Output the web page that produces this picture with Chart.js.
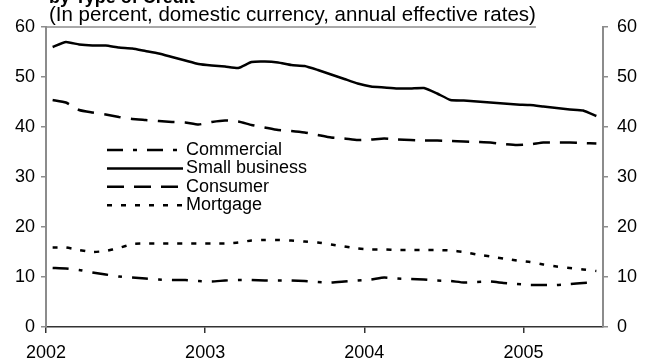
<!DOCTYPE html>
<html>
<head>
<meta charset="utf-8">
<script src="https://cdn.jsdelivr.net/npm/chart.js@4.4.0/dist/chart.umd.min.js"></script>
<style>
    html, body { margin: 0; padding: 0; background: #fff; }
    #wrap { width: 646px; height: 362px; position: relative; }
</style>
</head>
<body>
<div id="wrap"><canvas id="rateChart"></canvas></div>
<script>
// Monthly lending rates, Jan 2002 - Jun 2005
const startYear = 2002;
const commercial = [11.8, 11.7, 11.4, 10.9, 10.5, 10.1, 9.9, 9.7, 9.5, 9.4, 9.4, 9.2, 9.1, 9.3, 9.4, 9.4, 9.3, 9.3, 9.3, 9.2, 9.0, 8.9, 9.1, 9.3, 9.5, 9.9, 9.7, 9.6, 9.5, 9.3, 9.2, 8.9, 9.0, 9.1, 8.8, 8.6, 8.4, 8.4, 8.4, 8.6, 8.8, 8.9];
const smallBusiness = [56.0, 57.0, 56.5, 56.3, 56.3, 55.9, 55.7, 55.2, 54.7, 54.0, 53.3, 52.6, 52.3, 52.1, 51.8, 53.0, 53.1, 52.9, 52.4, 52.2, 51.4, 50.5, 49.6, 48.7, 48.1, 47.9, 47.7, 47.7, 47.8, 46.7, 45.4, 45.3, 45.1, 44.9, 44.7, 44.5, 44.4, 44.1, 43.8, 43.5, 43.3, 42.2];
const consumer = [45.4, 44.9, 43.4, 42.9, 42.5, 42.0, 41.6, 41.4, 41.2, 41.0, 40.9, 40.5, 41.0, 41.3, 41.1, 40.4, 39.9, 39.4, 39.2, 38.9, 38.4, 37.9, 37.7, 37.4, 37.5, 37.7, 37.5, 37.4, 37.3, 37.3, 37.2, 37.1, 37.0, 36.9, 36.6, 36.4, 36.5, 36.9, 36.9, 36.9, 36.8, 36.7];
const mortgage = [15.9, 15.9, 15.4, 15.0, 15.2, 15.8, 16.6, 16.7, 16.7, 16.7, 16.7, 16.7, 16.7, 16.7, 16.9, 17.3, 17.4, 17.4, 17.3, 17.1, 16.9, 16.5, 16.1, 15.7, 15.5, 15.5, 15.4, 15.4, 15.4, 15.4, 15.3, 15.0, 14.5, 14.1, 13.7, 13.3, 13.0, 12.5, 12.1, 11.8, 11.5, 11.2];
const seriesNames = ['Commercial', 'Small business', 'Consumer', 'Mortgage'];
const yTicks = [0, 10, 20, 30, 40, 50, 60];
const yearTicks = [2002, 2003, 2004, 2005];

const titleText = 'by Type of Credit';
const subtitleText = '(In percent, domestic currency, annual effective rates)';

const FONT = "'Liberation Sans', Arial, sans-serif";

// each month sits in the middle of its slot on the year axis
function toPoints(values) {
    return values.map((v, i) => ({ x: startYear + (i + 0.5) / 12, y: v }));
}

function makeSet(label, values, dash) {
    return {
        label: label,
        data: toPoints(values),
        borderColor: '#000',
        borderWidth: 2.5,
        borderDash: dash,
        borderCapStyle: 'butt',
        borderJoinStyle: 'round',
        pointRadius: 0,
        tension: 0.15,
        fill: false
    };
}

// Heading, underline and legend drawn straight onto the canvas
const decorPlugin = {
    id: 'decor',
    afterDraw(chart) {
        const ctx = chart.ctx;
        const area = chart.chartArea;
        ctx.save();
        ctx.fillStyle = '#000';
        ctx.textAlign = 'left';
        ctx.textBaseline = 'alphabetic';
        ctx.font = 'bold 18px ' + FONT;
        ctx.fillText(titleText, area.left + 3, 3);
        ctx.font = '20.5px ' + FONT;
        ctx.fillText(subtitleText, area.left + 3, 21);
        const subW = ctx.measureText(subtitleText).width;

        ctx.strokeStyle = '#8c8c8c';
        ctx.lineWidth = 1.5;
        ctx.beginPath();
        ctx.moveTo(area.left, area.top);
        ctx.lineTo(area.left + 3 + subW, area.top);
        ctx.stroke();

        // legend
        ctx.font = '18px ' + FONT;
        const lx = area.left + 61;
        const ly = area.top + 123;
        chart.data.datasets.forEach((ds, i) => {
            const y = ly + i * 18.4;
            ctx.strokeStyle = ds.borderColor;
            ctx.lineWidth = ds.borderWidth;
            ctx.setLineDash(ds.borderDash || []);
            ctx.beginPath();
            ctx.moveTo(lx, y);
            ctx.lineTo(lx + 76, y);
            ctx.stroke();
            ctx.setLineDash([]);
            ctx.textBaseline = 'middle';
            ctx.fillText(ds.label, lx + 79, y);
        });
        ctx.restore();
    }
};

const yAxisBase = {
    type: 'linear',
    min: yTicks[0],
    max: yTicks[yTicks.length - 1],
    grid: { drawOnChartArea: false, tickLength: 5, color: '#8c8c8c', lineWidth: 1.5 },
    border: { color: '#8c8c8c', width: 2 },
    ticks: {
        stepSize: 10,
        color: '#000',
        font: { family: FONT, size: 18 },
        padding: 6
    }
};

const ctx = document.getElementById('rateChart').getContext('2d');
const rateChart = new Chart(ctx, {
    type: 'line',
    data: {
        datasets: [
            makeSet(seriesNames[0], commercial, [16, 10, 4, 10]),
            makeSet(seriesNames[1], smallBusiness, []),
            makeSet(seriesNames[2], consumer, [17, 10]),
            makeSet(seriesNames[3], mortgage, [5, 9])
        ]
    },
    options: {
        responsive: true,
        maintainAspectRatio: false,
        animation: false,
        layout: { padding: { top: 27, left: 0, right: 0, bottom: 0 } },
        plugins: {
            legend: { display: false },
            tooltip: { enabled: false }
        },
        scales: {
            x: {
                type: 'linear',
                min: yearTicks[0],
                max: 2005.5,
                afterFit(scale) { scale.height = 35; },
                afterBuildTicks(scale) {
                    scale.ticks = yearTicks.map(v => ({ value: v }));
                },
                grid: { drawOnChartArea: false, tickLength: 6, color: '#333', lineWidth: 1.5 },
                border: { color: '#333', width: 1.5 },
                ticks: {
                    color: '#000',
                    font: { family: FONT, size: 18 },
                    padding: 9,
                    maxRotation: 0,
                    callback: v => String(v)
                }
            },
            y: Object.assign({}, yAxisBase, {
                position: 'left',
                afterFit(scale) { scale.width = 46; }
            }),
            y2: Object.assign({}, yAxisBase, {
                position: 'right',
                afterFit(scale) { scale.width = 43; },
                ticks: Object.assign({}, yAxisBase.ticks, { padding: 9 })
            })
        }
    },
    plugins: [decorPlugin]
});
</script>
</body>
</html>
